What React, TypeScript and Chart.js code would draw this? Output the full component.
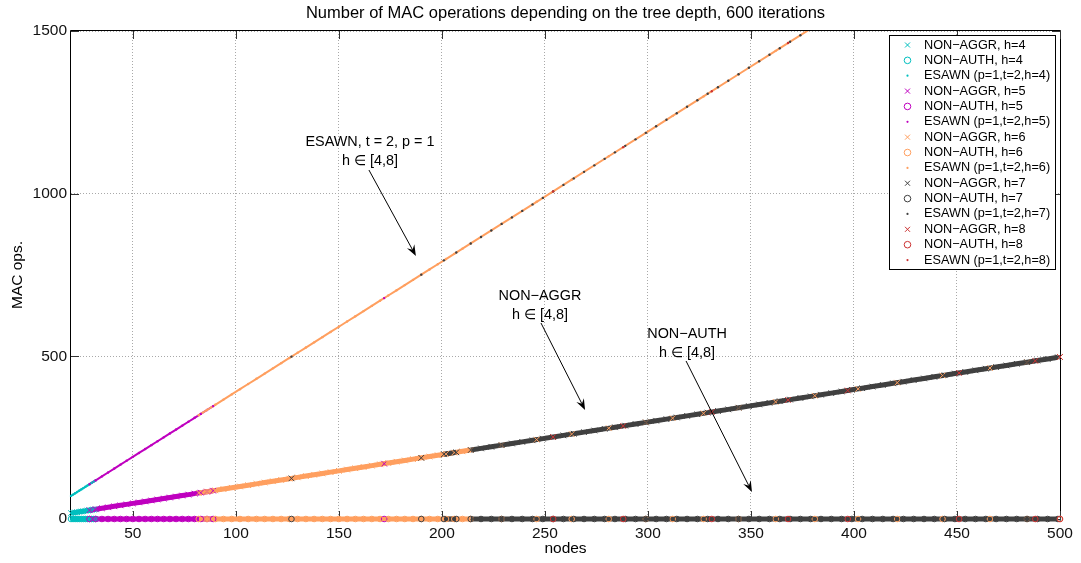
import React, { useEffect, useRef } from 'react';
import { Chart, registerables } from 'chart.js';

Chart.register(...registerables);

const FONT = "'Liberation Sans', Arial, Helvetica, sans-serif";

const chartTitle = 'Number of MAC operations depending on the tree depth, 600 iterations';
const xAxisTitle = 'nodes';
const yAxisTitle = 'MAC ops.';

const hValues = [4, 5, 6, 7, 8];
const depthColors = ['#00bfbf', '#bf00bf', '#ff9f5f', '#404040', '#cc3333'];

const xTickValues = [50, 100, 150, 200, 250, 300, 350, 400, 450, 500];
const yTickValues = [0, 500, 1000, 1500];

// h = 4
const nodesH4 = [20, 21, 22, 23, 24, 25, 26, 27, 28, 29, 30, 31, 32];
const esawnH4 = [71, 75, 79, 83, 87, 91, 95, 99, 103, 107, 111, 115, 119];
const nonAggrH4 = [18, 19, 20, 21, 22, 23, 24, 25, 26, 27, 28, 29, 30];
const nonAuthH4 = [0, 0, 0, 0, 0, 0, 0, 0, 0, 0, 0, 0, 0];

// h = 5
const nodesH5 = [29, 32, 35, 38, 41, 44, 47, 50, 53, 56, 59, 62, 65, 68, 71, 74, 77, 80, 83, 86, 89, 172];
const esawnH5 = [107, 119, 131, 143, 155, 167, 179, 191, 203, 215, 227, 239, 251, 263, 275, 287, 299, 311, 323, 335, 347, 679];
const nonAggrH5 = [27, 30, 33, 36, 39, 42, 45, 48, 51, 54, 57, 60, 63, 66, 69, 72, 75, 78, 81, 84, 87, 170];
const nonAuthH5 = [0, 0, 0, 0, 0, 0, 0, 0, 0, 0, 0, 0, 0, 0, 0, 0, 0, 0, 0, 0, 0, 0];

// h = 6
const nodesH6 = [82, 86, 90, 94, 98, 102, 106, 110, 114, 118, 122, 126, 130, 134, 138, 142, 146, 150, 154, 158, 162, 166, 170, 174, 178, 182, 186, 190, 194, 198, 202, 206, 210, 214, 229, 246, 263, 281, 299, 312, 327, 344, 362, 381, 402, 421, 443, 466, 484, 500];
const esawnH6 = [319, 335, 351, 367, 383, 399, 415, 431, 447, 463, 479, 495, 511, 527, 543, 559, 575, 591, 607, 623, 639, 655, 671, 687, 703, 719, 735, 751, 767, 783, 799, 815, 831, 847, 907, 975, 1043, 1115, 1187, 1239, 1299, 1367, 1439, 1515, 1599, 1675, 1763, 1855, 1927, 1991];
const nonAggrH6 = [80, 84, 88, 92, 96, 100, 104, 108, 112, 116, 120, 124, 128, 132, 136, 140, 144, 148, 152, 156, 160, 164, 168, 172, 176, 180, 184, 188, 192, 196, 200, 204, 208, 212, 227, 244, 261, 279, 297, 310, 325, 342, 360, 379, 400, 419, 441, 464, 482, 498];
const nonAuthH6 = [0, 0, 0, 0, 0, 0, 0, 0, 0, 0, 0, 0, 0, 0, 0, 0, 0, 0, 0, 0, 0, 0, 0, 0, 0, 0, 0, 0, 0, 0, 0, 0, 0, 0, 0, 0, 0, 0, 0, 0, 0, 0, 0, 0, 0, 0, 0, 0, 0, 0];

// h = 7
const nodesH7 = [127, 190, 201, 207, 214, 219, 224, 229, 234, 239, 244, 249, 254, 259, 264, 269, 274, 279, 284, 289, 294, 299, 304, 309, 314, 319, 324, 329, 334, 339, 344, 349, 354, 359, 364, 369, 374, 379, 384, 389, 394, 399, 404, 409, 414, 419, 424, 429, 434, 439, 444, 449, 454, 459, 464, 469, 474, 479, 484, 489, 494, 499];
const esawnH7 = [499, 751, 795, 819, 847, 867, 887, 907, 927, 947, 967, 987, 1007, 1027, 1047, 1067, 1087, 1107, 1127, 1147, 1167, 1187, 1207, 1227, 1247, 1267, 1287, 1307, 1327, 1347, 1367, 1387, 1407, 1427, 1447, 1467, 1487, 1507, 1527, 1547, 1567, 1587, 1607, 1627, 1647, 1667, 1687, 1707, 1727, 1747, 1767, 1787, 1807, 1827, 1847, 1867, 1887, 1907, 1927, 1947, 1967, 1987];
const nonAggrH7 = [125, 188, 199, 205, 212, 217, 222, 227, 232, 237, 242, 247, 252, 257, 262, 267, 272, 277, 282, 287, 292, 297, 302, 307, 312, 317, 322, 327, 332, 337, 342, 347, 352, 357, 362, 367, 372, 377, 382, 387, 392, 397, 402, 407, 412, 417, 422, 427, 432, 437, 442, 447, 452, 457, 462, 467, 472, 477, 482, 487, 492, 497];
const nonAuthH7 = [0, 0, 0, 0, 0, 0, 0, 0, 0, 0, 0, 0, 0, 0, 0, 0, 0, 0, 0, 0, 0, 0, 0, 0, 0, 0, 0, 0, 0, 0, 0, 0, 0, 0, 0, 0, 0, 0, 0, 0, 0, 0, 0, 0, 0, 0, 0, 0, 0, 0, 0, 0, 0, 0, 0, 0, 0, 0, 0, 0, 0, 0];

// h = 8
const nodesH8 = [254, 288, 331, 368, 397, 451, 488, 500];
const esawnH8 = [1007, 1143, 1315, 1463, 1579, 1795, 1943, 1991];
const nonAggrH8 = [252, 286, 329, 366, 395, 449, 486, 498];
const nonAuthH8 = [0, 0, 0, 0, 0, 0, 0, 0];

const nodeSets = [nodesH4, nodesH5, nodesH6, nodesH7, nodesH8];
const esawnSets = [esawnH4, esawnH5, esawnH6, esawnH7, esawnH8];
const nonAggrSets = [nonAggrH4, nonAggrH5, nonAggrH6, nonAggrH7, nonAggrH8];
const nonAuthSets = [nonAuthH4, nonAuthH5, nonAuthH6, nonAuthH7, nonAuthH8];

// Text callouts, anchored in data coordinates
const callouts = [
  { lines: ['ESAWN, t = 2, p = 1', 'h \u2208 [4,8]'], at: [165.1, 1158.8], from: [164.6, 1072.7], to: [187.4, 808.4] },
  { lines: ['NON\u2212AGGR', 'h \u2208 [4,8]'], at: [247.6, 685.5], from: [248.1, 602.5], to: [269.5, 335.0] },
  { lines: ['NON\u2212AUTH', 'h \u2208 [4,8]'], at: [319.0, 568.6], from: [318.5, 485.7], to: [350.5, 83.0] },
];

type Kind = {
  label: (h: number) => string;
  sets: number[][];
  marker: 'cross' | 'circle' | 'dot';
  radius: number;
  band: number;
  gap: number;
  bandDepths: number[];
};

const kinds: Kind[] = [
  { label: (h) => `NON\u2212AGGR, h=${h}`, sets: nonAggrSets, marker: 'cross', radius: 4, band: 5, gap: 6, bandDepths: [4, 5, 6, 7, 8] },
  { label: (h) => `NON\u2212AUTH, h=${h}`, sets: nonAuthSets, marker: 'circle', radius: 2.8, band: 5, gap: 6, bandDepths: [4, 5, 6, 7, 8] },
  { label: (h) => `ESAWN (p=1,t=2,h=${h})`, sets: esawnSets, marker: 'dot', radius: 1.2, band: 2, gap: 20, bandDepths: [4, 5, 6] },
];

const CLIP = { left: 5, right: 6, top: 0, bottom: 8 };

function buildDatasets() {
  const out: any[] = [];
  let layer = 0;
  // continuous strips where samples are dense
  hValues.forEach((h, i) => {
    kinds.forEach((k) => {
      if (!k.bandDepths.includes(h)) return;
      const color = depthColors[i];
      const nodes = nodeSets[i];
      out.push({
        label: k.label(h) + ' strip',
        data: nodes.map((n, j) => ({ x: n, y: k.sets[i][j] })),
        showLine: true,
        borderColor: color,
        borderWidth: k.band,
        pointRadius: 0,
        pointHoverRadius: 0,
        segment: {
          borderColor: (c: any) => (nodes[c.p1DataIndex] - nodes[c.p0DataIndex] > k.gap ? 'rgba(0,0,0,0)' : color),
        },
        clip: CLIP,
        order: -(layer++),
      });
    });
  });
  // individual markers
  hValues.forEach((h, i) => {
    kinds.forEach((k) => {
      const color = depthColors[i];
      out.push({
        label: k.label(h),
        data: nodeSets[i].map((n, j) => ({ x: n, y: k.sets[i][j] })),
        showLine: false,
        pointStyle: k.marker === 'cross' ? 'crossRot' : 'circle',
        pointRadius: k.radius,
        pointHoverRadius: k.radius,
        pointBorderColor: color,
        pointBackgroundColor: k.marker === 'dot' ? color : 'rgba(0,0,0,0)',
        pointBorderWidth: k.marker === 'dot' ? 0 : 1,
        clip: CLIP,
        order: -(layer++),
      });
    });
  });
  return out;
}

function drawLegendMarker(ctx: CanvasRenderingContext2D, kind: Kind['marker'], x: number, y: number, color: string) {
  ctx.save();
  ctx.strokeStyle = color;
  ctx.fillStyle = color;
  ctx.lineWidth = 1;
  if (kind === 'cross') {
    ctx.beginPath();
    ctx.moveTo(x - 2.5, y - 2.5);
    ctx.lineTo(x + 2.5, y + 2.5);
    ctx.moveTo(x + 2.5, y - 2.5);
    ctx.lineTo(x - 2.5, y + 2.5);
    ctx.stroke();
  } else if (kind === 'circle') {
    ctx.beginPath();
    ctx.arc(x, y, 3.3, 0, Math.PI * 2);
    ctx.stroke();
  } else {
    ctx.beginPath();
    ctx.arc(x, y, 1.1, 0, Math.PI * 2);
    ctx.fill();
  }
  ctx.restore();
}

const decorPlugin = {
  id: 'decor',
  beforeDatasetsDraw(chart: any) {
    const { ctx, chartArea: a, scales } = chart;
    ctx.save();
    ctx.strokeStyle = '#000';
    ctx.lineWidth = 1;
    ctx.beginPath();
    ctx.rect(a.left - 0.5, a.top - 0.5, a.right - a.left + 1, a.bottom - a.top + 1);
    ctx.stroke();
    ctx.strokeStyle = '#333';
    ctx.beginPath();
    const tick = 8;
    xTickValues.forEach((v) => {
      const px = Math.round(scales.x.getPixelForValue(v)) + 0.5;
      ctx.moveTo(px, a.bottom);
      ctx.lineTo(px, a.bottom - tick);
      ctx.moveTo(px, a.top);
      ctx.lineTo(px, a.top + tick);
    });
    yTickValues.forEach((v) => {
      const py = Math.round(scales.y.getPixelForValue(v)) + 0.5;
      ctx.moveTo(a.left, py);
      ctx.lineTo(a.left + tick, py);
      ctx.moveTo(a.right, py);
      ctx.lineTo(a.right - tick, py);
    });
    ctx.stroke();
    ctx.restore();
  },
  afterDraw(chart: any) {
    const { ctx, chartArea: a, scales } = chart;
    ctx.save();
    ctx.fillStyle = '#000';
    ctx.textAlign = 'center';
    ctx.textBaseline = 'middle';

    ctx.font = `16.5px ${FONT}`;
    ctx.fillText(chartTitle, (a.left + a.right) / 2, 13);

    ctx.font = `15.5px ${FONT}`;
    ctx.fillText(xAxisTitle, (a.left + a.right) / 2, 549);
    ctx.save();
    ctx.translate(18, (a.top + a.bottom) / 2);
    ctx.rotate(-Math.PI / 2);
    ctx.fillText(yAxisTitle, 0, 0);
    ctx.restore();

    // callouts with arrows
    ctx.font = `14.4px ${FONT}`;
    callouts.forEach((c) => {
      const tx = scales.x.getPixelForValue(c.at[0]);
      const ty = scales.y.getPixelForValue(c.at[1]);
      c.lines.forEach((line, i) => ctx.fillText(line, tx, ty + i * 19));
      const fx = scales.x.getPixelForValue(c.from[0]);
      const fy = scales.y.getPixelForValue(c.from[1]);
      const ex = scales.x.getPixelForValue(c.to[0]);
      const ey = scales.y.getPixelForValue(c.to[1]);
      const ang = Math.atan2(ey - fy, ex - fx);
      const cos = Math.cos(ang);
      const sin = Math.sin(ang);
      const L = 11;
      const W = 4.2;
      const N = 7;
      ctx.strokeStyle = '#000';
      ctx.lineWidth = 1;
      ctx.beginPath();
      ctx.moveTo(fx, fy);
      ctx.lineTo(ex - N * cos, ey - N * sin);
      ctx.stroke();
      ctx.beginPath();
      ctx.moveTo(ex, ey);
      ctx.lineTo(ex - L * cos + W * sin, ey - L * sin - W * cos);
      ctx.lineTo(ex - N * cos, ey - N * sin);
      ctx.lineTo(ex - L * cos - W * sin, ey - L * sin + W * cos);
      ctx.closePath();
      ctx.fill();
    });

    // legend box
    const lx = 889;
    const ly = 35;
    const lw = 166;
    const lh = 234;
    ctx.fillStyle = '#fff';
    ctx.fillRect(lx, ly, lw, lh);
    ctx.strokeStyle = '#000';
    ctx.lineWidth = 1;
    ctx.strokeRect(lx + 0.5, ly + 0.5, lw, lh);
    ctx.font = `12.7px ${FONT}`;
    ctx.textAlign = 'left';
    ctx.fillStyle = '#000';
    let row = 0;
    hValues.forEach((h, i) => {
      kinds.forEach((k) => {
        const y = 45 + row * 15.36;
        drawLegendMarker(ctx, k.marker, 907.5, y, depthColors[i]);
        ctx.fillStyle = '#000';
        ctx.fillText(k.label(h), 924, y);
        row++;
      });
    });
    ctx.restore();
  },
};

export default function App() {
  const canvasRef = useRef<HTMLCanvasElement>(null);

  useEffect(() => {
    const canvas = canvasRef.current;
    if (!canvas) return;
    const chart = new Chart(canvas, {
      type: 'scatter',
      data: { datasets: buildDatasets() },
      options: {
        animation: false,
        responsive: false,
        devicePixelRatio: 1,
        events: [],
        layout: { padding: { left: 0, top: 31, right: 21, bottom: 0 } },
        plugins: {
          legend: { display: false },
          tooltip: { enabled: false },
          title: { display: false },
        },
        scales: {
          x: {
            type: 'linear',
            min: 20,
            max: 500,
            afterBuildTicks: (scale: any) => {
              scale.ticks = xTickValues.map((v) => ({ value: v }));
            },
            afterFit: (scale: any) => {
              scale.height = 44;
            },
            ticks: {
              autoSkip: false,
              maxRotation: 0,
              padding: 5,
              color: '#111',
              font: { family: FONT, size: 15.5 },
              callback: (v: any) => String(v),
            },
            grid: { color: '#a9a9a9', lineWidth: 1, drawTicks: false },
            border: { display: false, dash: [1, 2] },
          },
          y: {
            type: 'linear',
            min: 0,
            max: 1500,
            afterBuildTicks: (scale: any) => {
              scale.ticks = yTickValues.map((v) => ({ value: v }));
            },
            afterFit: (scale: any) => {
              scale.width = 71;
            },
            ticks: {
              autoSkip: false,
              padding: 4,
              color: '#111',
              font: { family: FONT, size: 15.5 },
              callback: (v: any) => String(v),
            },
            grid: { color: '#a9a9a9', lineWidth: 1, drawTicks: false },
            border: { display: false, dash: [1, 2] },
          },
        },
      },
      plugins: [decorPlugin],
    } as any);
    return () => chart.destroy();
  }, []);

  return (
    <div style={{ position: 'absolute', left: 0, top: 0, width: 1081, height: 563, background: '#fff' }}>
      <canvas ref={canvasRef} width={1081} height={563} style={{ display: 'block', width: 1081, height: 563 }} />
    </div>
  );
}
